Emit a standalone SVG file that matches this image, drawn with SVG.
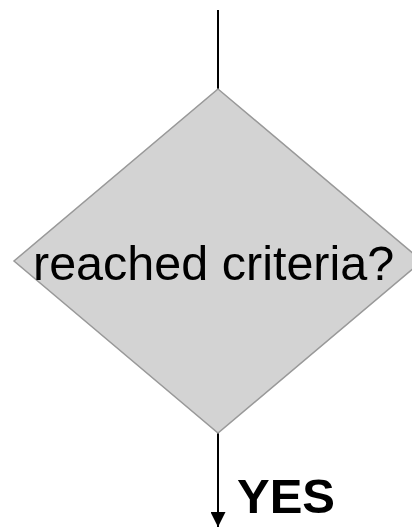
<svg xmlns="http://www.w3.org/2000/svg" width="412" height="528" viewBox="0 0 412 528">
<style>
.shape{fill:#d3d3d3;stroke:#999999;stroke-width:1.5}
.edge{stroke:#000;stroke-width:2;fill:none}
.lbl{font-family:"Liberation Sans",Arial,sans-serif;fill:#000}
</style>
<defs>
<marker id="arr" viewBox="0 0 15 15" refX="15" refY="7.5" markerWidth="15" markerHeight="15" markerUnits="userSpaceOnUse" orient="auto">
<path d="M0,0 L15,7.5 L0,15 Z" fill="#000"/>
</marker>
</defs>
<rect width="412" height="528" fill="#fff"/>
<g id="connectors">
<line class="edge" x1="218" y1="10" x2="218" y2="89"/>
<line class="edge" x1="218" y1="433" x2="218" y2="527" marker-end="url(#arr)"/>
<text class="lbl" x="237" y="513" font-size="49" font-weight="bold">YES</text>
</g>
<g id="decision">
<polygon class="shape" points="218,89 422,261 218,433 14,261"/>
<text class="lbl" x="33" y="280" font-size="48.5">reached criteria?</text>
</g>
</svg>
